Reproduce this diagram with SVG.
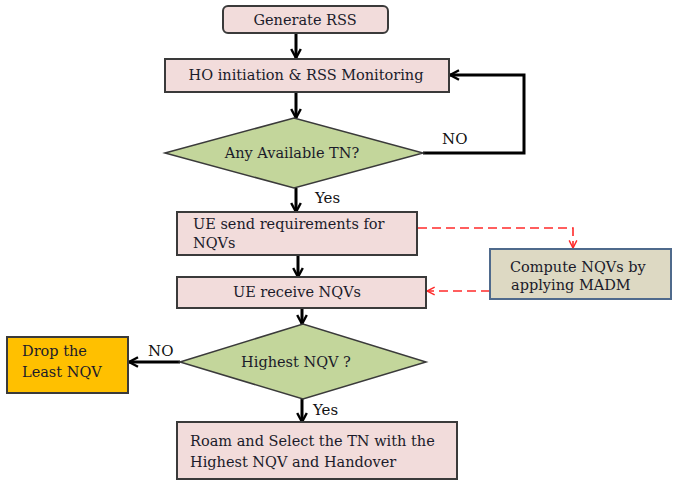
<svg xmlns="http://www.w3.org/2000/svg" width="676" height="482" viewBox="0 0 676 482" font-family="DejaVu Serif, serif">
<style>
text{font-family:'DejaVu Serif',serif}
.box{fill:#f2dcdb;stroke:#3a3a3a;stroke-width:2}
.dia{fill:#c3d69b;stroke:#3a3a3a;stroke-width:1.5}
.t{font-size:14.5px;fill:#1b1b2a}
.c{text-anchor:middle}
.lbl{font-size:15px;fill:#111}
.ln{fill:none;stroke:#000;stroke-width:3}
.dash{fill:none;stroke:#ff2a2a;stroke-width:1.6;stroke-dasharray:9 5}
</style>
<defs>
<marker id="ah" viewBox="0 0 10 10" refX="8.5" refY="5" markerWidth="4" markerHeight="4" orient="auto" markerUnits="strokeWidth">
<path d="M1,1 L8.5,5 L1,9" fill="none" stroke="#000" stroke-width="2"/>
</marker>
<marker id="rh" viewBox="0 0 10 10" refX="9" refY="5" markerWidth="6" markerHeight="6" orient="auto" markerUnits="strokeWidth">
<path d="M1,1 L9,5 L1,9" fill="none" stroke="#ff2a2a" stroke-width="1.5"/>
</marker>
</defs>
<rect width="676" height="482" fill="#fff"/>
<g id="connectors">
<line class="ln" x1="296" y1="33" x2="296" y2="58" marker-end="url(#ah)"/>
<line class="ln" x1="296" y1="92" x2="296" y2="118" marker-end="url(#ah)"/>
<line class="ln" x1="296" y1="188" x2="296" y2="212" marker-end="url(#ah)"/>
<polyline class="ln" points="423,153 524,153 524,75 450,75" marker-end="url(#ah)"/>
<line class="ln" x1="298" y1="255" x2="298" y2="277" marker-end="url(#ah)"/>
<line class="ln" x1="302" y1="308" x2="302" y2="324" marker-end="url(#ah)"/>
<line class="ln" x1="302" y1="399" x2="302" y2="422" marker-end="url(#ah)"/>
<line class="ln" x1="180" y1="362" x2="129" y2="362" marker-end="url(#ah)"/>
<polyline class="dash" points="418,228 573,228 573,248" marker-end="url(#rh)"/>
<line class="dash" x1="490" y1="291" x2="427" y2="291" marker-end="url(#rh)"/>
<text class="lbl" x="442" y="144">NO</text>
<text class="lbl" x="315" y="203">Yes</text>
<text class="lbl" x="148" y="356">NO</text>
<text class="lbl" x="313" y="415">Yes</text>
</g>
<g id="generate">
<rect class="box" x="223" y="6" width="165" height="27" rx="5"/>
<text class="t c" x="305" y="25">Generate RSS</text>
</g>
<g id="ho">
<rect class="box" x="165" y="59" width="284" height="33"/>
<text class="t c" x="306" y="80">HO initiation &amp; RSS Monitoring</text>
</g>
<g id="anytn">
<polygon class="dia" points="165,153 294,118 423,153 294,188"/>
<text class="t c" x="292" y="158">Any Available TN?</text>
</g>
<g id="uesend">
<rect class="box" x="177" y="212" width="240" height="43"/>
<text class="t" x="193" y="229">UE send requirements for</text>
<text class="t" x="193" y="248">NQVs</text>
</g>
<g id="compute">
<rect x="490" y="249" width="181" height="50" fill="#ddd9c3" stroke="#4f6a8c" stroke-width="2"/>
<text class="t" x="510" y="272">Compute NQVs by</text>
<text class="t" x="511" y="290">applying MADM</text>
</g>
<g id="uerecv">
<rect class="box" x="177" y="277" width="249" height="31"/>
<text class="t c" x="297" y="297">UE receive NQVs</text>
</g>
<g id="highest">
<polygon class="dia" points="180,362 303,324 426,362 303,399"/>
<text class="t c" x="296" y="367">Highest NQV ?</text>
</g>
<g id="drop">
<rect x="7" y="337" width="121" height="56" fill="#ffc000" stroke="#3a3a3a" stroke-width="2"/>
<text class="t" x="22" y="356">Drop the</text>
<text class="t" x="22" y="377">Least NQV</text>
</g>
<g id="roam">
<rect class="box" x="177" y="422" width="280" height="57"/>
<text class="t" x="190" y="446">Roam and Select the TN with the</text>
<text class="t" x="190" y="467">Highest NQV and Handover</text>
</g>
</svg>
